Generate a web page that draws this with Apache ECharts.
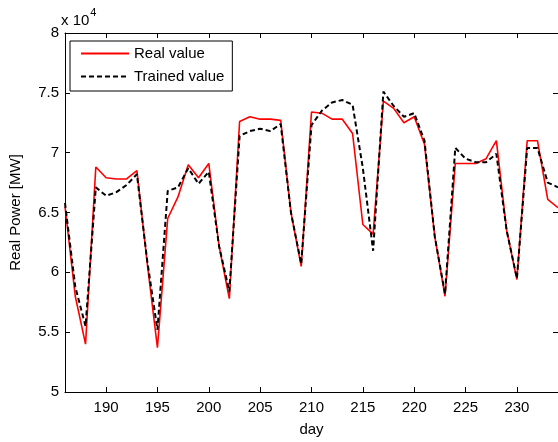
<!DOCTYPE html>
<html>
<head>
<meta charset="utf-8">
<script src="https://cdn.jsdelivr.net/npm/echarts@6/dist/echarts.min.js"></script>
<style>
html,body{margin:0;padding:0;background:#fff;}
#c{width:558px;height:442px;}
</style>
</head>
<body>
<div id="c"></div>
<script>
// ---- data ----
var days = [186,187,188,189,190,191,192,193,194,195,196,197,198,199,200,201,202,203,204,205,206,207,208,209,210,
            211,212,213,214,215,216,217,218,219,220,221,222,223,224,225,226,227,228,229,230,231,232,233,234];
var realValue = [65500,58000,54000,68800,67900,67800,67800,68500,60800,53700,64500,66300,69000,67900,69100,62200,57800,72600,73000,72800,72800,72700,65000,60500,73400,
                 73300,72800,72800,71600,64000,63200,74300,73700,72500,73000,70700,63000,58000,69100,69100,69100,69500,71000,63500,59400,71000,71000,66100,65400];
var trainedValue = [65800,58800,55500,67100,66400,66700,67300,68200,61000,55200,66800,67100,68700,67400,68400,62200,58400,71400,71800,72000,71800,72400,65000,60700,72300,
                    73500,74200,74400,74000,68700,61800,75100,73900,73000,73300,71000,63000,58200,70400,69500,69200,69200,69900,63500,59500,70400,70400,67500,67100];
var xTicks = [190,195,200,205,210,215,220,225,230];
var yTicks = [50000,55000,60000,65000,70000,75000,80000];
var seriesNames = ['Real value','Trained value'];

function pairs(xs, ys){ return xs.map(function(x,i){ return [x, ys[i]]; }); }

var FONT = 'Liberation Sans';
var FS = 15;
var chart = echarts.init(document.getElementById('c'), null, {renderer:'canvas'});
var axisLine = {show:true, onZero:false, lineStyle:{color:'#000', width:1}};
chart.setOption({
  animation:false,
  backgroundColor:'#fff',
  grid:{left:61.5, right:-2, top:33, bottom:42},
  legend:{
    orient:'vertical', left:70, top:41,
    data:seriesNames,
    itemWidth:48, itemHeight:14, itemGap:8,
    padding:[5,8,7,10],
    borderColor:'#000', borderWidth:1,
    backgroundColor:'#fff',
    itemStyle:{opacity:0},
    textStyle:{fontFamily:FONT, fontSize:FS, color:'#000'}
  },
  xAxis:[{
    type:'value', min:186, max:234, position:'bottom',
    name:'day', nameLocation:'middle', nameGap:30,
    nameTextStyle:{fontFamily:FONT, fontSize:FS, color:'#000'},
    axisLine:axisLine, splitLine:{show:false},
    axisTick:{show:true, inside:true, length:5, customValues:xTicks, lineStyle:{color:'#000'}},
    axisLabel:{show:true, customValues:xTicks, margin:8, fontFamily:FONT, fontSize:FS, color:'#000'}
  },{
    type:'value', min:186, max:234, position:'top',
    axisLine:axisLine, splitLine:{show:false},
    axisTick:{show:true, inside:true, length:5, customValues:xTicks, lineStyle:{color:'#000'}},
    axisLabel:{show:false}
  }],
  yAxis:[{
    type:'value', min:yTicks[0], max:yTicks[yTicks.length-1], interval:5000, position:'left',
    name:'Real Power [MW]', nameLocation:'middle', nameGap:42, nameRotate:90,
    nameTextStyle:{fontFamily:FONT, fontSize:FS, color:'#000'},
    axisLine:axisLine, splitLine:{show:false},
    axisTick:{show:true, inside:true, length:5, lineStyle:{color:'#000'}},
    axisLabel:{show:true, margin:6, fontFamily:FONT, fontSize:FS, color:'#000',
      formatter:function(v){ return String(v/10000); }}
  },{
    type:'value', min:yTicks[0], max:yTicks[yTicks.length-1], interval:5000, position:'right',
    axisLine:axisLine, splitLine:{show:false},
    axisTick:{show:true, inside:true, length:5, lineStyle:{color:'#000'}},
    axisLabel:{show:false}
  }],
  graphic:[{
    type:'text', left:61, top:7,
    style:{
      text:'{a|x 10}{b|4}',
      rich:{
        a:{fontFamily:FONT, fontSize:FS, fill:'#000', padding:[6,0,0,0]},
        b:{fontFamily:FONT, fontSize:11, fill:'#000', verticalAlign:'top', padding:[0,0,0,1]}
      }
    }
  }],
  series:[{
    name:seriesNames[0], type:'line', xAxisIndex:0, yAxisIndex:0,
    data:pairs(days, realValue), symbol:'none', showSymbol:false,
    lineStyle:{color:'#ff0000', width:1.6}, itemStyle:{color:'#ff0000'}, z:2
  },{
    name:seriesNames[1], type:'line', xAxisIndex:0, yAxisIndex:0,
    data:pairs(days, trainedValue), symbol:'none', showSymbol:false,
    lineStyle:{color:'#000', width:2, type:[5,3]}, itemStyle:{color:'#000'}, z:3
  }]
});
</script>
</body>
</html>
